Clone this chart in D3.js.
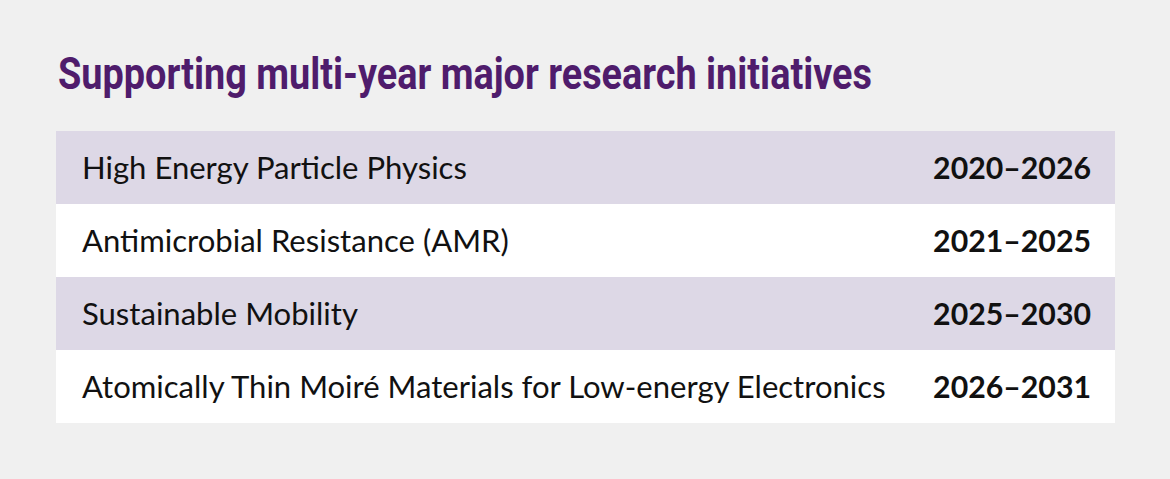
<!DOCTYPE html>
<html>
<head>
<meta charset="utf-8">
<script src="https://cdn.jsdelivr.net/npm/d3@7"></script>
<style>
  html, body { margin: 0; padding: 0; background: #f0f0f0; }
  svg { display: block; }
</style>
</head>
<body>
<div id="chart"></div>
<script>
// Data for the table
var title = "Supporting multi-year major research initiatives";
var initiatives = [
    "High Energy Particle Physics",
    "Antimicrobial Resistance (AMR)",
    "Sustainable Mobility",
    "Atomically Thin Moiré Materials for Low-energy Electronics"
];
var periods = ["2020–2026", "2021–2025", "2025–2030", "2026–2031"];

var svg_width = 1170;
var svg_height = 479;

var table = { left: 56, right: 1115, top: 131, bottom: 423 };

var svg = d3.select("#chart")
    .append("svg")
    .attr("width", svg_width)
    .attr("height", svg_height);

svg.append("rect")
    .attr("width", svg_width)
    .attr("height", svg_height)
    .attr("fill", "#f0f0f0");

// title
svg.append("text")
    .attr("x", 58)
    .attr("y", 89)
    .attr("textLength", 814)
    .attr("lengthAdjust", "spacingAndGlyphs")
    .style("font-family", "Roboto, sans-serif")
    .style("font-weight", 700)
    .style("font-size", "44px")
    .style("fill", "#4f1c6c")
    .text(title);

// one band per initiative
var y_scale = d3.scaleBand()
    .domain(initiatives)
    .range([table.top, table.bottom]);

var rows = svg.selectAll(".row")
    .data(initiatives)
    .enter()
    .append("g")
    .attr("class", "row")
    .attr("transform", d => `translate(0, ${y_scale(d)})`);

rows.append("rect")
    .attr("x", table.left)
    .attr("width", table.right - table.left)
    .attr("height", y_scale.bandwidth())
    .attr("fill", (d, i) => i % 2 == 0 ? "#ddd8e6" : "#ffffff");

var labels = rows.append("text")
    .attr("x", 82)
    .attr("y", y_scale.bandwidth() / 2 + 11)
    .style("font-family", "Lato, sans-serif")
    .style("font-size", "29px")
    .style("fill", "#111")
    .text(d => d);

var years = rows.append("text")
    .attr("x", 1091)
    .attr("y", y_scale.bandwidth() / 2 + 11)
    .attr("text-anchor", "end")
    .style("font-family", "Lato, sans-serif")
    .style("font-weight", 700)
    .style("font-size", "29px")
    .style("fill", "#111")
    .text((d, i) => periods[i]);

// size texts so they span like in the original
var longest = d3.max(labels.nodes(), n => n.getComputedTextLength());
labels.style("font-size", (29 * 804 / longest) + "px");

var year_w = d3.max(years.nodes(), n => n.getComputedTextLength());
years.style("font-size", (29 * 158 / year_w) + "px");
</script>
</body>
</html>
